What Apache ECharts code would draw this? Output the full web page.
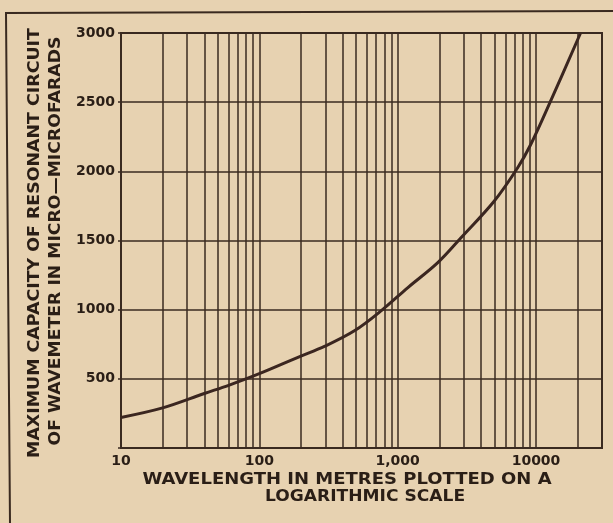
<!DOCTYPE html>
<html>
<head>
<meta charset="utf-8">
<script src="https://cdn.jsdelivr.net/npm/echarts@6/dist/echarts.min.js"></script>
<style>
html,body{margin:0;padding:0;background:#e7d2b1;}
#chart{width:613px;height:523px;}
</style>
</head>
<body>
<div id="chart"></div>
<script>
// Data
const wavelengths = [10, 20, 40, 60, 100, 192, 298, 490, 762, 1186, 1950, 2870, 4980, 7350, 9140, 12700, 21000];
const capacities  = [221, 290, 394, 453, 537, 657, 736, 849, 993, 1160, 1340, 1520, 1784, 2024, 2192, 2504, 3000];
const xTickValues = [10, 100, 1000, 10000];
const xTickLabels = ['10', '100', '1,000', '10000'];
const xGridValues = [20, 30, 40, 50, 60, 70, 80, 90, 100,
                     200, 300, 400, 500, 600, 700, 800, 900, 1000,
                     2000, 3000, 4000, 5000, 6000, 7000, 8000, 9000, 10000, 20000];
const yTickValues = [500, 1000, 1500, 2000, 2500, 3000];
const xTitle = ['WAVELENGTH IN METRES PLOTTED ON A', 'LOGARITHMIC SCALE'];
const yTitle = ['MAXIMUM CAPACITY OF RESONANT CIRCUIT', 'OF WAVEMETER IN MICRO\u2014MICROFARADS'];

const ink = '#3a2a20';
const textInk = '#2a1e16';
const font = 'DejaVu Sans';
const titleFont = 'bold 15px "DejaVu Sans"';

const chart = echarts.init(document.getElementById('chart'), null, {renderer: 'canvas'});
const points = wavelengths.map((w, i) => [w, capacities[i]]);

chart.setOption({
  backgroundColor: '#e7d2b1',
  animation: false,
  grid: {left: 121, top: 33, right: 11, bottom: 75, show: true, borderColor: ink, borderWidth: 2, backgroundColor: 'transparent'},
  xAxis: {
    type: 'log', logBase: 10, min: 10, max: 30000,
    axisLine: {show: true, lineStyle: {color: ink, width: 2}},
    axisTick: {show: false},
    splitLine: {show: false},
    axisLabel: {
      margin: 6, color: textInk, fontFamily: font, fontWeight: 'bold', fontSize: 14,
      showMaxLabel: false,
      formatter: function (v) {
        const r = Math.round(v);
        const i = xTickValues.indexOf(r);
        return i >= 0 ? xTickLabels[i] : '';
      }
    }
  },
  yAxis: {
    type: 'value', min: 0, max: 3000, interval: 500,
    axisLine: {show: true, lineStyle: {color: ink, width: 2}},
    axisTick: {show: true, length: 3, lineStyle: {color: ink, width: 1.5}},
    splitLine: {show: true, lineStyle: {color: ink, width: 1.5}},
    axisLabel: {
      margin: 6, color: textInk, fontFamily: font, fontWeight: 'bold', fontSize: 14,
      formatter: function (v) { return yTickValues.indexOf(v) >= 0 ? String(v) : ''; }
    }
  },
  series: [
    {
      type: 'line', data: points, showSymbol: false, silent: true, z: 1,
      lineStyle: {width: 0, opacity: 0},
      markLine: {
        silent: true, symbol: ['none', 'none'], label: {show: false},
        lineStyle: {color: ink, width: 1.5, type: 'solid'},
        data: xGridValues.map(v => ({xAxis: v}))
      }
    },
    {
      type: 'line', data: points, smooth: 0.35, showSymbol: false, z: 5,
      lineStyle: {color: '#3b2620', width: 3}
    }
  ],
  graphic: [
    {type: 'polyline', shape: {points: [[613, 11], [6, 13], [10, 523]]}, style: {stroke: ink, lineWidth: 2, fill: null}},
    {type: 'text', x: 347, y: 480, scaleX: 1.2, style: {text: xTitle[0], font: titleFont, fill: textInk, align: 'center', verticalAlign: 'middle'}},
    {type: 'text', x: 365, y: 497, scaleX: 1.14, style: {text: xTitle[1], font: titleFont, fill: textInk, align: 'center', verticalAlign: 'middle'}},
    {type: 'text', x: 35, y: 243, rotation: Math.PI / 2, scaleX: 1.16, style: {text: yTitle[0], font: titleFont, fill: textInk, align: 'center', verticalAlign: 'middle'}},
    {type: 'text', x: 56, y: 241, rotation: Math.PI / 2, scaleX: 1.15, style: {text: yTitle[1], font: titleFont, fill: textInk, align: 'center', verticalAlign: 'middle'}}
  ]
});
</script>
</body>
</html>
